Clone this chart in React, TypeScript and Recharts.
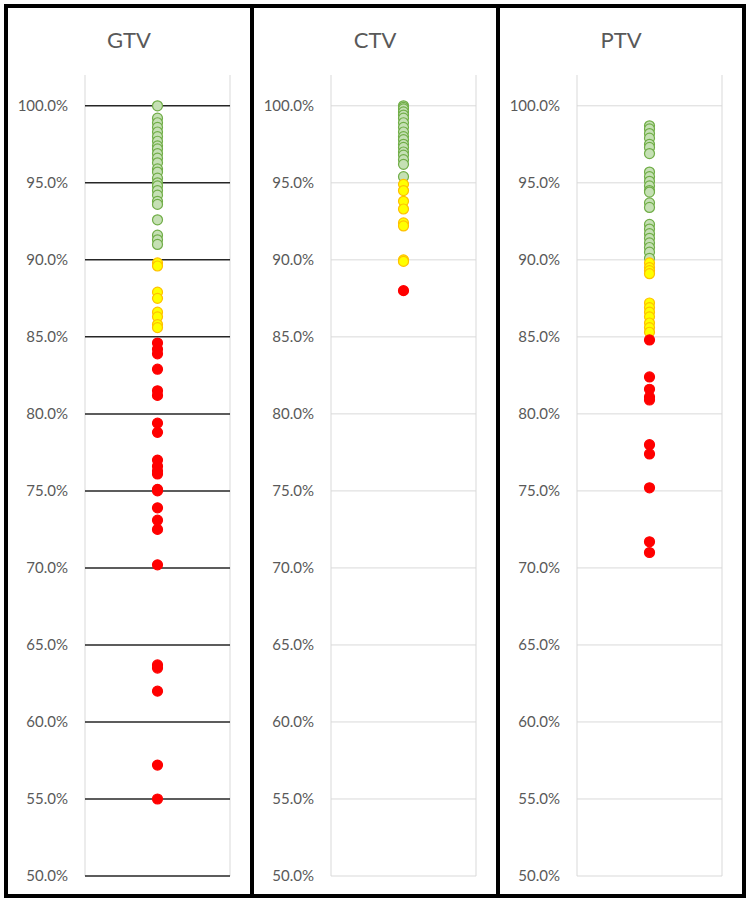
import { ScatterChart, Scatter, XAxis, YAxis, CartesianGrid } from "recharts";

// Coverage values (%) per structure, split by colour band
const gtvGreen = [100.0, 99.2, 98.9, 98.6, 98.3, 98.0, 97.7, 97.4, 97.2, 96.9, 96.6, 96.3, 95.9, 95.7, 95.3, 95.0, 94.8, 94.5, 94.2, 93.8, 93.6, 92.6, 91.6, 91.3, 91.0];
const gtvYellow = [89.8, 89.6, 87.9, 87.5, 86.6, 86.3, 85.8, 85.6];
const gtvRed = [84.6, 84.2, 83.9, 82.9, 81.5, 81.2, 79.4, 78.8, 77.0, 76.6, 76.3, 76.1, 75.1, 75.0, 73.9, 73.1, 72.5, 70.2, 63.7, 63.5, 62.0, 57.2, 55.0];

const ctvGreen = [100.0, 99.9, 99.8, 99.6, 99.4, 99.2, 98.9, 98.6, 98.3, 98.0, 97.8, 97.5, 97.3, 97.0, 96.8, 96.5, 96.2, 95.4];
const ctvYellow = [94.9, 94.5, 93.8, 93.3, 92.4, 92.2, 90.0, 89.9];
const ctvRed = [88.0];

const ptvGreen = [98.7, 98.5, 98.2, 97.9, 97.5, 97.3, 96.9, 95.7, 95.4, 95.1, 94.8, 94.5, 94.4, 93.7, 93.4, 92.3, 92.0, 91.7, 91.4, 91.1, 90.8, 90.5, 90.1];
const ptvYellow = [89.8, 89.5, 89.3, 89.1, 87.2, 86.9, 86.6, 86.3, 85.9, 85.6, 85.3];
const ptvRed = [84.8, 82.4, 81.6, 81.1, 80.9, 78.0, 77.4, 75.2, 71.7, 71.0];

const yTicks = [50, 55, 60, 65, 70, 75, 80, 85, 90, 95, 100];
const Y_MIN = 50;
const Y_MAX = 102;

const FONT = "Lato, 'Open Sans', sans-serif";
const TEXT = "#595959";

const toPoints = (vals: number[]) => vals.map((y) => ({ x: 1, y }));

const dot = (fill: string, stroke: string) => (p: any) => (
  <circle cx={p.cx} cy={p.cy} r={5} fill={fill} stroke={stroke} strokeWidth={1.2} />
);

// horizontal grid only at the labelled ticks (no line along the top of the plot)
const tickRows = ({ yAxis, offset }: any) => {
  const s = yAxis?.scale;
  if (typeof s === "function") return yTicks.map((t) => s(t));
  return yTicks.map((t) => offset.top + (offset.height * (Y_MAX - t)) / (Y_MAX - Y_MIN));
};

interface PanelProps {
  title: string;
  green: number[];
  yellow: number[];
  red: number[];
  darkGrid?: boolean;
}

function Panel({ title, green, yellow, red, darkGrid }: PanelProps) {
  return (
    <div style={{ position: "relative", width: 242, height: 886 }}>
      <div
        style={{
          position: "absolute",
          top: 19,
          left: 0,
          width: 242,
          textAlign: "center",
          fontFamily: FONT,
          fontSize: 22,
          lineHeight: "26px",
          color: TEXT,
        }}
      >
        {title}
      </div>
      <ScatterChart width={242} height={886} margin={{ top: 67, right: 20, bottom: 18, left: 0 }}>
        <CartesianGrid horizontal={false} stroke="#d9d9d9" />
        <CartesianGrid
          vertical={false}
          horizontalCoordinatesGenerator={tickRows}
          stroke={darkGrid ? "#262626" : "#d9d9d9"}
          strokeWidth={darkGrid ? 1.5 : 1}
        />
        <XAxis
          type="number"
          dataKey="x"
          domain={[0, 2]}
          ticks={[0, 1, 2]}
          tick={false}
          axisLine={false}
          tickLine={false}
          height={0}
        />
        <YAxis
          type="number"
          dataKey="y"
          domain={[Y_MIN, Y_MAX]}
          ticks={yTicks}
          width={77}
          axisLine={false}
          tickLine={false}
          tickMargin={11}
          tickFormatter={(v: number) => `${v.toFixed(1)}%`}
          tick={{ fontSize: 15, fill: TEXT, fontFamily: FONT }}
        />
        <Scatter data={toPoints(green)} shape={dot("#c5e0b4", "#70ad47")} isAnimationActive={false} />
        <Scatter data={toPoints(yellow)} shape={dot("#ffff00", "#ffc000")} isAnimationActive={false} />
        <Scatter data={toPoints(red)} shape={dot("#ff0000", "#ff0000")} isAnimationActive={false} />
      </ScatterChart>
    </div>
  );
}

export default function App() {
  return (
    <div
      style={{
        position: "absolute",
        left: 4,
        top: 4,
        width: 742,
        height: 894,
        boxSizing: "border-box",
        border: "4px solid #000",
        background: "#fff",
        display: "flex",
      }}
    >
      <Panel title="GTV" green={gtvGreen} yellow={gtvYellow} red={gtvRed} darkGrid />
      <div style={{ width: 4, background: "#000" }} />
      <Panel title="CTV" green={ctvGreen} yellow={ctvYellow} red={ctvRed} />
      <div style={{ width: 4, background: "#000" }} />
      <Panel title="PTV" green={ptvGreen} yellow={ptvYellow} red={ptvRed} />
    </div>
  );
}
